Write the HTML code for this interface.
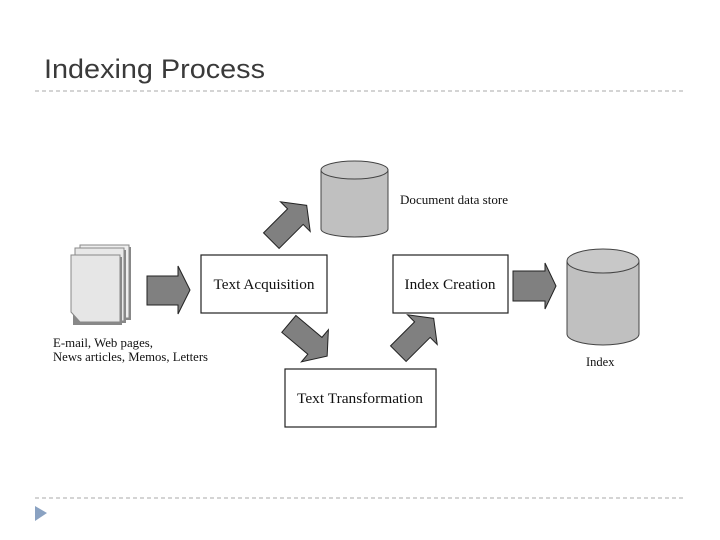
<!DOCTYPE html>
<html><head><style>
html,body{margin:0;padding:0;background:#fff;}
svg{display:block;}
</style></head><body>
<svg width="720" height="540" viewBox="0 0 720 540" xmlns="http://www.w3.org/2000/svg">
<defs>
<path id="arr" d="M-25,-11 L9,-11 L9,-21 L25,0 L9,21 L9,11 L-25,11 Z" fill="#808080" stroke="#222" stroke-width="1"/>
</defs>
<text x="44" y="78" font-family="Liberation Sans, sans-serif" font-size="27" fill="#3a3a3a" textLength="221" lengthAdjust="spacingAndGlyphs">Indexing Process</text>
<line x1="35" y1="91" x2="685" y2="91" stroke="#aaa" stroke-width="1" stroke-dasharray="4,3"/>
<line x1="35" y1="498" x2="685" y2="498" stroke="#aaa" stroke-width="1" stroke-dasharray="4,3"/>
<polygon points="35,506 47,513 35,521" fill="#8aa2c2"/>

<!-- documents -->
<rect x="82" y="247" width="49" height="73" fill="#888"/>
<rect x="80" y="245" width="49" height="73" fill="#eee" stroke="#888"/>
<rect x="77" y="250" width="49" height="73" fill="#888"/>
<rect x="75" y="248" width="49" height="73" fill="#e8e8e8" stroke="#888"/>
<rect x="73" y="257" width="49" height="68" fill="#888"/>
<path d="M71,255 L120,255 L120,322 L80,322 L71,312 Z" fill="#e6e6e6" stroke="#888"/>
<text font-family="Liberation Serif, serif" font-size="12.5" fill="#111"><tspan x="53" y="347" textLength="100" lengthAdjust="spacingAndGlyphs">E-mail, Web pages,</tspan><tspan x="53" y="361" textLength="155" lengthAdjust="spacingAndGlyphs">News articles, Memos, Letters</tspan></text>

<!-- arrows -->
<path d="M147,276 L178,276 L178,266 L190,290 L178,314 L178,305 L147,305 Z" fill="#808080" stroke="#222"/>
<path d="M513,271 L545,271 L545,263 L556,286 L545,309 L545,301 L513,301 Z" fill="#808080" stroke="#222"/>
<use href="#arr" transform="translate(289,223) rotate(-45)"/>
<use href="#arr" transform="translate(308,340) rotate(40)"/>
<use href="#arr" transform="translate(416,336) rotate(-45)"/>

<!-- boxes -->
<rect x="201" y="255" width="126" height="58" fill="#fff" stroke="#222" stroke-width="1.2"/>
<text x="264" y="289" text-anchor="middle" font-family="Liberation Serif, serif" font-size="15" fill="#111" textLength="101" lengthAdjust="spacingAndGlyphs">Text Acquisition</text>
<rect x="393" y="255" width="115" height="58" fill="#fff" stroke="#222" stroke-width="1.2"/>
<text x="450" y="289" text-anchor="middle" font-family="Liberation Serif, serif" font-size="15" fill="#111" textLength="91" lengthAdjust="spacingAndGlyphs">Index Creation</text>
<rect x="285" y="369" width="151" height="58" fill="#fff" stroke="#222" stroke-width="1.2"/>
<text x="360" y="403" text-anchor="middle" font-family="Liberation Serif, serif" font-size="15" fill="#111" textLength="126" lengthAdjust="spacingAndGlyphs">Text Transformation</text>

<!-- cylinders -->
<path d="M321,170 L321,229 A33.5,8 0 0 0 388,229 L388,170 Z" fill="#c0c0c0" stroke="#444"/>
<ellipse cx="354.5" cy="170" rx="33.5" ry="9" fill="#c8c8c8" stroke="#444"/>
<text x="400" y="204" font-family="Liberation Serif, serif" font-size="12.5" fill="#111" textLength="108" lengthAdjust="spacingAndGlyphs">Document data store</text>

<path d="M567,261 L567,334 A36,11 0 0 0 639,334 L639,261 Z" fill="#c0c0c0" stroke="#444"/>
<ellipse cx="603" cy="261" rx="36" ry="12" fill="#c8c8c8" stroke="#444"/>
<text x="586" y="366" font-family="Liberation Serif, serif" font-size="12.5" fill="#111">Index</text>
</svg>
</body></html>
